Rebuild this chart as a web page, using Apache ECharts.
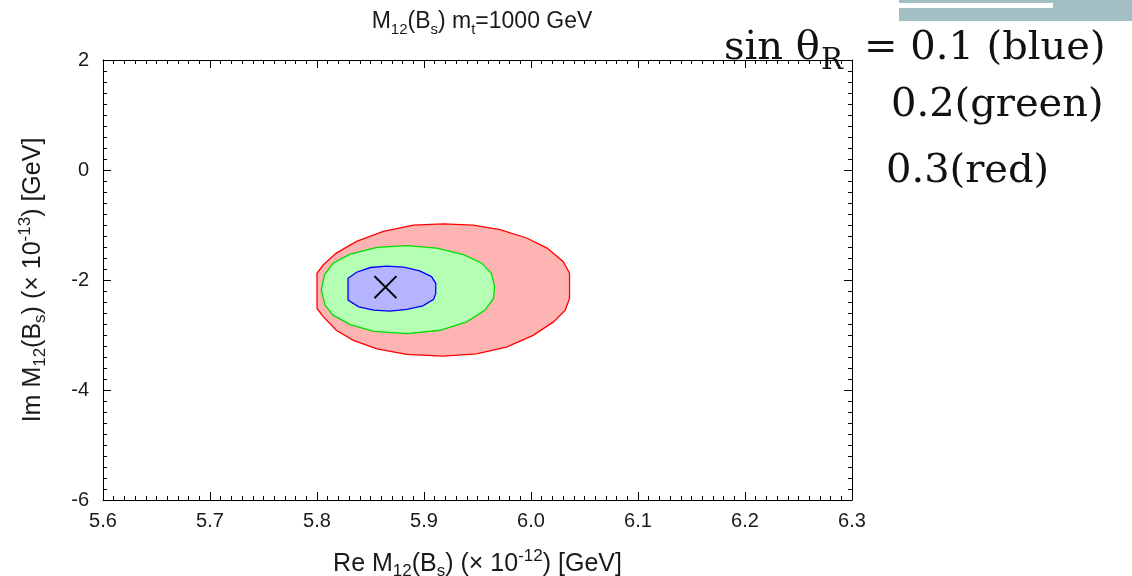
<!DOCTYPE html>
<html>
<head>
<meta charset="utf-8">
<script src="https://cdn.jsdelivr.net/npm/echarts@6/dist/echarts.min.js"></script>
<style>
html,body{margin:0;padding:0;background:#fff;}
#c{width:1132px;height:576px;}
</style>
</head>
<body>
<div id="c"></div>
<script>
// ---- data ----
const xTicks = [5.6, 5.7, 5.8, 5.9, 6.0, 6.1, 6.2, 6.3];
const yTicks = [-6, -4, -2, 0, 2];

// sin thetaR = 0.3 (red) contour vertices [Re, Im]
const redContour = [
  [5.800,-1.877],[5.800,-2.518],[5.806,-2.670],[5.818,-2.914],[5.834,-3.097],
  [5.856,-3.251],[5.884,-3.354],[5.918,-3.385],[5.949,-3.342],[5.977,-3.220],
  [6.002,-3.006],[6.021,-2.762],[6.032,-2.548],[6.036,-2.335],[6.036,-1.877],
  [6.030,-1.663],[6.015,-1.419],[5.996,-1.236],[5.971,-1.083],[5.946,-1.004],
  [5.918,-0.980],[5.890,-1.004],[5.862,-1.114],[5.837,-1.297],[5.818,-1.511],
  [5.806,-1.723]
];
// sin thetaR = 0.2 (green)
const greenContour = [
  [5.804,-2.182],[5.8075,-2.456],[5.815,-2.639],[5.831,-2.811],[5.853,-2.933],
  [5.884,-2.976],[5.915,-2.914],[5.940,-2.762],[5.957,-2.548],[5.965,-2.335],
  [5.966,-2.121],[5.963,-1.877],[5.954,-1.694],[5.937,-1.540],[5.912,-1.419],
  [5.884,-1.376],[5.856,-1.407],[5.831,-1.529],[5.815,-1.694],[5.807,-1.907]
];
// sin thetaR = 0.1 (blue)
const blueContour = [
  [5.829,-1.969],[5.829,-2.365],[5.839,-2.487],[5.853,-2.548],[5.868,-2.566],
  [5.884,-2.536],[5.899,-2.469],[5.909,-2.353],[5.911,-2.243],[5.911,-2.060],
  [5.907,-1.938],[5.896,-1.833],[5.881,-1.767],[5.865,-1.749],[5.850,-1.773],
  [5.837,-1.859]
];
// central value marker
const centralPoint = [[5.864, -2.13]];

// ---- chart ----
const chart = echarts.init(document.getElementById('c'), null, {renderer:'canvas'});
const FONT = 'Liberation Sans';
const TXT = '#1a1a1a';

function richSet(main, small, lh) {
  return {
    n: {fontFamily: FONT, fontSize: main, fontWeight: 'normal', color: TXT, lineHeight: lh, verticalAlign: 'middle'},
    sub: {fontFamily: FONT, fontSize: small, fontWeight: 'normal', color: TXT, lineHeight: lh, verticalAlign: 'bottom'},
    sup: {fontFamily: FONT, fontSize: small, fontWeight: 'normal', color: TXT, lineHeight: lh, verticalAlign: 'top'}
  };
}

function axisBase(min, max, interval, extra) {
  return Object.assign({
    type: 'value', min: min, max: max, interval: interval,
    axisLine: {show: true, onZero: false, lineStyle: {color: '#000', width: 1}},
    axisTick: {show: true, inside: true, length: 8, lineStyle: {color: '#000', width: 1}},
    minorTick: {show: true, splitNumber: 10, length: 4, lineStyle: {color: '#000', width: 1}},
    splitLine: {show: false},
    minorSplitLine: {show: false}
  }, extra);
}

function polySeries(name, pts, fill, stroke) {
  return {
    type: 'custom', name: name, coordinateSystem: 'cartesian2d',
    xAxisIndex: 0, yAxisIndex: 0, silent: true,
    data: [pts[0]],
    renderItem: function (params, api) {
      return {
        type: 'polygon',
        shape: {points: pts.map(function (p) { return api.coord(p); })},
        style: {fill: fill, stroke: stroke, lineWidth: 1.3}
      };
    }
  };
}

const SERIF = 'DejaVu Serif';
const annRich = {
  a: {fontFamily: SERIF, fontSize: 40, fill: '#111', lineHeight: 46, verticalAlign: 'middle'},
  r: {fontFamily: SERIF, fontSize: 29, fill: '#111', lineHeight: 46, verticalAlign: 'middle'}
};

const option = {
  animation: false,
  backgroundColor: '#fff',
  title: {
    text: '{n|M}{sub|12}{n|(B}{sub|s}{n|) m}{sub|t}{n|=1000 GeV}',
    left: 477, top: 2, textAlign: 'center',
    textStyle: {rich: richSet(23, 15, 30), fontWeight: 'normal', fontSize: 23}
  },
  grid: {left: 103, right: 280, top: 60, bottom: 76, containLabel: false, outerBoundsMode: 'none'},
  xAxis: [
    axisBase(xTicks[0], xTicks[xTicks.length - 1], 0.1, {
      position: 'bottom',
      axisLabel: {show: true, margin: 11, fontFamily: FONT, fontSize: 20, color: TXT,
        formatter: function (v) { return v.toFixed(1); }},
      name: '{n|Re M}{sub|12}{n|(B}{sub|s}{n|) (× 10}{sup|-12}{n|) [GeV]}',
      nameLocation: 'middle', nameGap: 48,
      nameTextStyle: {rich: richSet(25, 17, 32), fontSize: 25}
    }),
    axisBase(xTicks[0], xTicks[xTicks.length - 1], 0.1, {
      position: 'top', axisLabel: {show: false}
    })
  ],
  yAxis: [
    axisBase(yTicks[0], yTicks[yTicks.length - 1], 2, {
      position: 'left',
      axisLabel: {show: true, margin: 14, fontFamily: FONT, fontSize: 20, color: TXT},
      name: '{n|Im M}{sub|12}{n|(B}{sub|s}{n|) (× 10}{sup|-13}{n|) [GeV]}',
      nameLocation: 'middle', nameGap: 54,
      nameTextStyle: {rich: richSet(25, 17, 32), fontSize: 25}
    }),
    axisBase(yTicks[0], yTicks[yTicks.length - 1], 2, {
      position: 'right', axisLabel: {show: false}
    })
  ],
  series: [
    polySeries('0.3 (red)', redContour, '#ffb4b4', '#ff0000'),
    polySeries('0.2 (green)', greenContour, '#b4ffb4', '#00dd00'),
    polySeries('0.1 (blue)', blueContour, '#b4b4ff', '#0000ff'),
    {
      type: 'custom', name: 'central', coordinateSystem: 'cartesian2d', silent: true,
      data: centralPoint,
      renderItem: function (params, api) {
        const c = api.coord([api.value(0), api.value(1)]);
        const h = 11;
        return {
          type: 'group',
          children: [
            {type: 'line', shape: {x1: c[0] - h, y1: c[1] - h, x2: c[0] + h, y2: c[1] + h}, style: {stroke: '#000', lineWidth: 2}},
            {type: 'line', shape: {x1: c[0] - h, y1: c[1] + h, x2: c[0] + h, y2: c[1] - h}, style: {stroke: '#000', lineWidth: 2}}
          ]
        };
      }
    }
  ],
  graphic: [
    {type: 'rect', left: 899, top: 0, shape: {width: 233, height: 21}, style: {fill: '#a3bfc3'}, z: 100},
    {type: 'rect', left: 899, top: 3, shape: {width: 154, height: 5}, style: {fill: '#ffffff'}, z: 101},
    {type: 'text', left: 724, top: 29, z: 100, style: {text: '{a|sin θ}', rich: annRich}},
    {type: 'text', left: 821, top: 47, z: 100, style: {text: '{r|R}', rich: annRich}},
    {type: 'text', left: 864, top: 29, z: 100, style: {text: '{a|= 0.1 (blue)}', rich: annRich}},
    {type: 'text', left: 891, top: 86, z: 100, style: {text: '{a|0.2(green)}', rich: annRich}},
    {type: 'text', left: 886, top: 152, z: 100, style: {text: '{a|0.3(red)}', rich: annRich}}
  ]
};
chart.setOption(option);
</script>
</body>
</html>
